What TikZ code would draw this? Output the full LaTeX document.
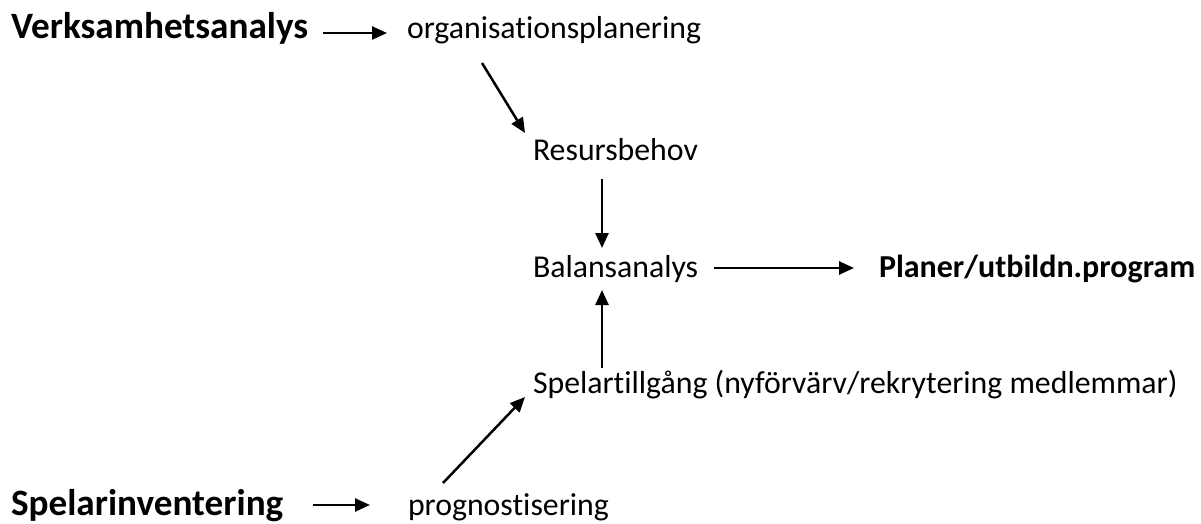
\documentclass[tikz,border=0pt]{standalone}
\usepackage{fontspec}
\setmainfont{Carlito}[Ligatures={NoCommon}]
\usetikzlibrary{arrows.meta}
\tikzset{
  lbl/.style={anchor=base west, inner sep=0pt, outer sep=0pt, font=\fontsize{31.8}{38}\selectfont},
  lblbold/.style={lbl, font=\fontsize{32}{38}\selectfont\bfseries},
  lblbig/.style={lbl, font=\fontsize{37.2}{44}\selectfont\bfseries},
  arr/.style={line width=2.5pt, -{Triangle[length=15pt,width=13pt]}}
}
\begin{document}
\begin{tikzpicture}[x=1pt,y=-1pt]
\useasboundingbox (0,0) rectangle (1201,524);
\node[lblbig] (verk) at (11,39) {Verksamhetsanalys};
\node[lbl] (org) at (407,39) {organisationsplanering};
\node[lbl] (res) at (533,160) {Resursbehov};
\node[lbl] (bal) at (533,277) {Balansanalys};
\node[lblbold] (plan) at (879,277) {Planer/utbildn.program};
\node[lbl] (spel) at (533,393) {Spelartillgång (nyförvärv/rekrytering medlemmar)};
\node[lblbig] (spin) at (11,515) {Spelarinventering};
\node[lbl] (prog) at (408,515) {prognostisering};

\draw[arr] ([xshift=15pt,yshift=6pt]verk.base east) -- ([xshift=-20pt,yshift=6pt]org.base west);
\draw[arr] ([xshift=75pt,yshift=-24pt]org.base west) -- ([xshift=-8pt,yshift=27pt]res.base west);
\draw[arr] ([xshift=69pt,yshift=-19pt]res.base west) -- ([xshift=69pt,yshift=29pt]bal.base west);
\draw[arr] ([xshift=16pt,yshift=9pt]bal.base east) -- ([xshift=-25pt,yshift=9pt]plan.base west);
\draw[arr] ([xshift=69pt,yshift=25pt]spel.base west) -- ([xshift=69pt,yshift=-13pt]bal.base west);
\draw[arr] ([xshift=35pt,yshift=32pt]prog.base west) -- ([xshift=-8pt,yshift=-4pt]spel.base west);
\draw[arr] ([xshift=30pt,yshift=10pt]spin.base east) -- ([xshift=-38pt,yshift=10pt]prog.base west);
\end{tikzpicture}
\end{document}
